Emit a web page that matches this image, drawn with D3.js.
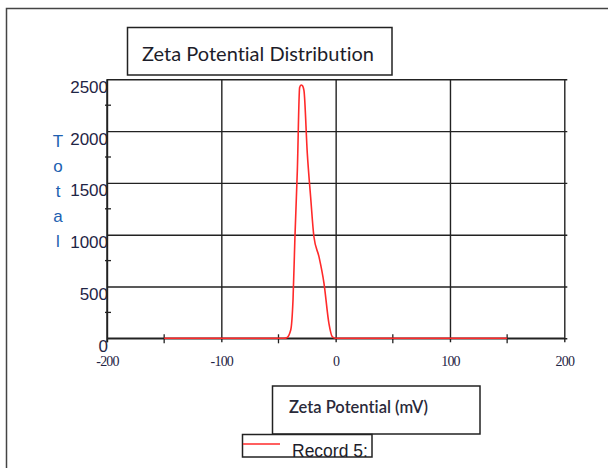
<!DOCTYPE html>
<html>
<head>
<meta charset="utf-8">
<script src="https://cdn.jsdelivr.net/npm/d3@7"></script>
<style>
  body { margin: 0; background: #fff; }
  svg { display: block; }
  text { font-variant-ligatures: none; }
</style>
</head>
<body>
<script>
// values
const zetaMv = [-150, -45, -42.8, -39.3, -37.3, -35.6, -33.5, -31.5, -30.2, -29.1, -27.7, -24.8, -21.9, -19, -14.6, -10.2, -5.9, -2.9, 0, 150];
const totalCounts = [0, 0, 5, 80, 370, 980, 1625, 2420, 2445, 2440, 2390, 1785, 1366, 980, 788, 531, 145, 15, 0, 0];
const xTicks = [-200, -100, 0, 100, 200];
const xMinor = [-150, -50, 50, 150];
const yTicks = [0, 500, 1000, 1500, 2000, 2500];
const yMinor = [250, 750, 1250, 1750, 2250];
const yLetters = ["T", "o", "t", "a", "l"];

const W = 608, H = 468;
const svg = d3.select("body").append("svg").attr("width", W).attr("height", H);

// outer frame (top and left edges only show)
svg.append("path")
  .attr("d", "M6.5,468 V8.5 H608")
  .attr("fill", "none").attr("stroke", "#444").attr("stroke-width", 1.5);

const xScale = d3.scaleLinear().domain([-200, 200]).range([107, 564.3]);
const yScale = d3.scaleLinear().domain([0, 2500]).range([338.3, 79.3]);

// title box
svg.append("rect").attr("x", 127.5).attr("y", 27.5).attr("width", 264.5).attr("height", 47.5)
  .attr("fill", "#fff").attr("stroke", "#222").attr("stroke-width", 1.5);
svg.append("text").attr("x", 258).attr("y", 61).attr("text-anchor", "middle")
  .attr("font-family", "Lato").attr("font-size", 20).attr("fill", "#1d1d2a")
  .text("Zeta Potential Distribution");

// horizontal grid + y labels
const yAxis = svg.append("g")
  .attr("transform", "translate(" + xScale(-200) + ",0)")
  .call(d3.axisLeft(yScale).tickValues(yTicks).tickFormat(d => String(d))
    .tickSize(-(xScale(200) - xScale(-200) + 3)).tickPadding(-1));
yAxis.select(".domain").remove();
yAxis.selectAll("line").attr("stroke", "#222").attr("stroke-width", 1.4);
yAxis.selectAll("text")
  .attr("dy", 13)
  .attr("font-family", "Liberation Sans, Arial").attr("font-size", 17).attr("fill", "#1f2545");

// vertical grid + x labels
const xAxis = svg.append("g")
  .attr("transform", "translate(0," + (yScale(0) + 4) + ")")
  .call(d3.axisBottom(xScale).tickValues(xTicks).tickFormat(d => String(d))
    .tickSize(-(yScale(0) + 4 - yScale(2500))).tickPadding(14));
xAxis.select(".domain").remove();
xAxis.selectAll("line").attr("stroke", "#222").attr("stroke-width", 1.4);
xAxis.selectAll("text")
  .attr("font-family", "Liberation Serif, Times New Roman").attr("font-size", 14)
  .attr("letter-spacing", -0.8).attr("fill", "#1f2545");

// axis lines
svg.append("line").attr("x1", xScale(-200)).attr("x2", xScale(-200))
  .attr("y1", yScale(2500)).attr("y2", yScale(0) + 4).attr("stroke", "#222").attr("stroke-width", 1.5);
svg.append("line").attr("x1", xScale(-200)).attr("x2", xScale(200))
  .attr("y1", yScale(0)).attr("y2", yScale(0)).attr("stroke", "#222").attr("stroke-width", 1.5);

// minor ticks
svg.append("g").selectAll("line").data(yMinor).join("line")
  .attr("x1", xScale(-200) - 2).attr("x2", xScale(-200) + 4)
  .attr("y1", d => yScale(d)).attr("y2", d => yScale(d))
  .attr("stroke", "#222").attr("stroke-width", 1.3);
svg.append("g").selectAll("line").data(xMinor).join("line")
  .attr("x1", d => xScale(d)).attr("x2", d => xScale(d))
  .attr("y1", yScale(0) - 4).attr("y2", yScale(0) + 5)
  .attr("stroke", "#222").attr("stroke-width", 1.3);

// data line
const pts = zetaMv.map((v, i) => [v, totalCounts[i]]);
svg.append("path").datum(pts)
  .attr("fill", "none").attr("stroke", "#ff2a2a").attr("stroke-width", 1.6)
  .attr("d", d3.line().x(d => xScale(d[0])).y(d => yScale(d[1])).curve(d3.curveMonotoneX));

// vertical "Total" letters
svg.append("g").selectAll("text").data(yLetters).join("text")
  .attr("x", 58).attr("y", (d, i) => 147 + i * 25).attr("text-anchor", "middle")
  .attr("font-family", "Liberation Sans, Arial").attr("font-size", 17).attr("fill", "#2060b0")
  .text(d => d);

// x label box
svg.append("rect").attr("x", 272.5).attr("y", 386).attr("width", 207.5).attr("height", 48)
  .attr("fill", "#fff").attr("stroke", "#222").attr("stroke-width", 1.5);
svg.append("text").attr("x", 289).attr("y", 413)
  .attr("font-family", "Lato").attr("font-weight", 600).attr("font-size", 16.5).attr("fill", "#2a2a3a")
  .text("Zeta Potential (mV)");

// legend box
svg.append("defs").append("clipPath").attr("id", "legclip")
  .append("rect").attr("x", 242).attr("y", 434).attr("width", 130).attr("height", 23);
svg.append("rect").attr("x", 242.5).attr("y", 434.5).attr("width", 129.5).attr("height", 22.5)
  .attr("fill", "#fff").attr("stroke", "#222").attr("stroke-width", 1.5);
svg.append("line").attr("x1", 243).attr("x2", 280).attr("y1", 444).attr("y2", 444)
  .attr("stroke", "#ff2a2a").attr("stroke-width", 1.5);
svg.append("text").attr("x", 292).attr("y", 457).attr("clip-path", "url(#legclip)")
  .attr("font-family", "Liberation Sans, Arial").attr("font-size", 17.5).attr("fill", "#1d1d2a")
  .text("Record 5:");
</script>
</body>
</html>
